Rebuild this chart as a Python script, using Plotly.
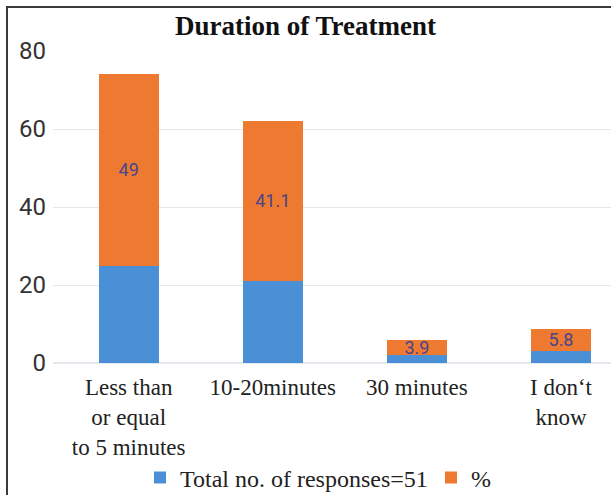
import plotly.graph_objects as go

categories = ["Less than<br>or equal<br>to 5 minutes", "10-20minutes", "30 minutes", "I don\u2018t<br>know"]
responses = [25, 21, 2, 3]
percent = [49, 41.1, 3.9, 5.8]
percent_labels = ["49", "41.1", "3.9", "5.8"]
y_ticks = [0, 20, 40, 60, 80]

SERIF = "Liberation Serif, Times New Roman, serif"
SANS = "Liberation Sans Narrow, Roboto, sans-serif"

fig = go.Figure()
fig.add_trace(go.Bar(
    x=categories, y=responses, name="Total no. of responses=51",
    marker=dict(color="#4B8FD6", line=dict(width=0)),
    hoverinfo="skip", legend="legend",
))
fig.add_trace(go.Bar(
    x=categories, y=percent, name="%",
    marker=dict(color="#EE7A32", line=dict(width=0)),
    text=percent_labels, textposition="inside", insidetextanchor="middle",
    constraintext="none",
    textfont=dict(family=SANS, size=18, color="#47458C"),
    hoverinfo="skip", legend="legend2",
))

legend_font = dict(family=SERIF, size=24, color="#222222")
legend_y = 1 - 478 / 495

fig.update_layout(
    width=611, height=495,
    barmode="stack", bargap=0.584,
    paper_bgcolor="white", plot_bgcolor="white",
    margin=dict(l=53, r=0, t=51, b=132, autoexpand=False),
    title=dict(text="<b>Duration of Treatment</b>", x=0.5, xref="container", xanchor="center",
               y=1 - 26 / 495, yanchor="middle",
               font=dict(family=SERIF, size=27, color="#111111")),
    showlegend=True,
    legend=dict(orientation="h", x=(140 - 53) / 558, xanchor="left",
                yref="container", y=legend_y, yanchor="middle",
                font=legend_font, bgcolor="rgba(0,0,0,0)"),
    legend2=dict(orientation="h", x=(431 - 53) / 558, xanchor="left",
                 yref="container", y=legend_y, yanchor="middle",
                 font=legend_font, bgcolor="rgba(0,0,0,0)"),
    xaxis=dict(range=[-0.525, 3.347], showgrid=False, showline=False, zeroline=False,
               tickfont=dict(family=SERIF, size=23, color="#222222"),
               ticks="", ticklabelstandoff=8, automargin=False),
    yaxis=dict(range=[0, 80], tickvals=y_ticks, showgrid=True, gridcolor="#E4E8EE",
               gridwidth=1, zeroline=True, zerolinecolor="#E4E8EE", showline=False,
               tickfont=dict(family=SANS, size=24, color="#333333"),
               ticks="", ticklabelstandoff=6, automargin=False),
    shapes=[dict(type="rect", xref="paper", yref="paper",
                 x0=(7 - 53) / 558, x1=1.02, y0=-0.6, y1=(363 - 7) / 312,
                 line=dict(color="#3A3A3A", width=2), fillcolor="rgba(0,0,0,0)", layer="above")],
)

fig.write_html("out.html", config={"displayModeBar": False},
               post_script="document.body.style.margin='0';")
